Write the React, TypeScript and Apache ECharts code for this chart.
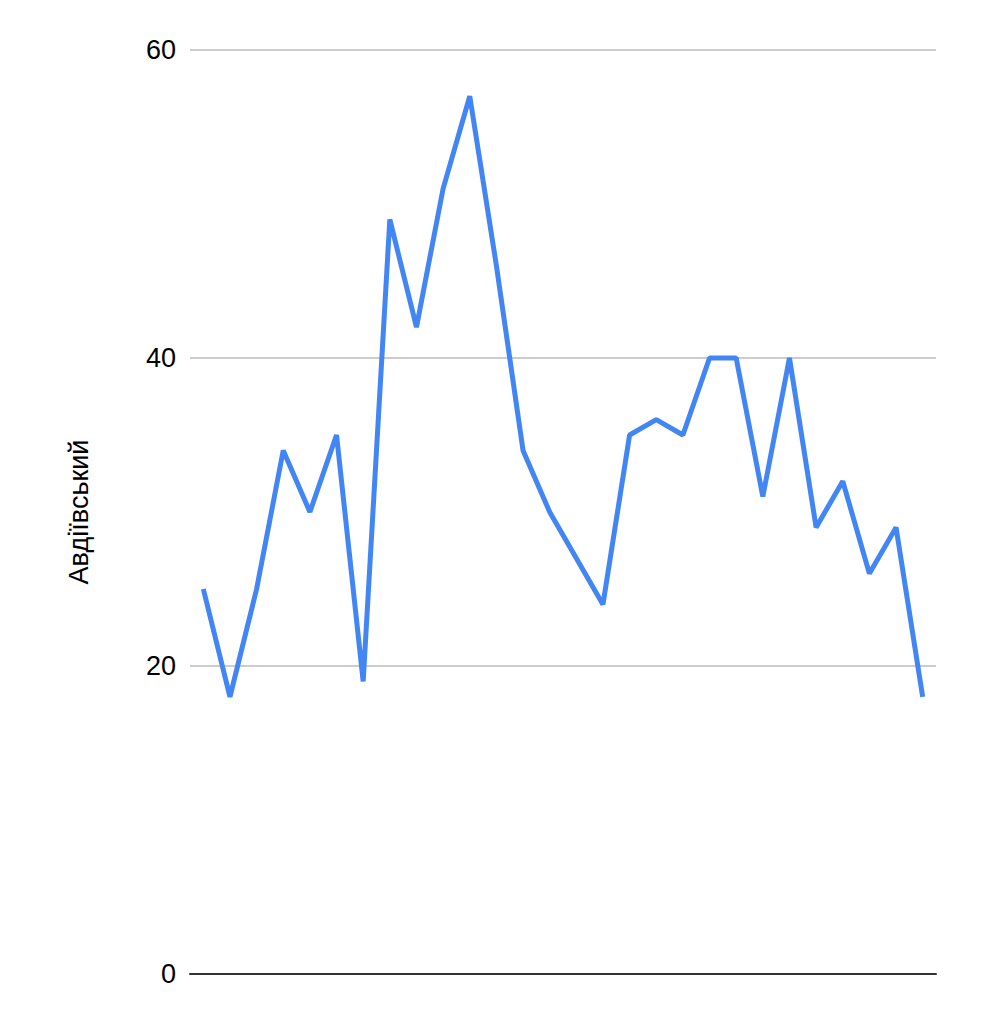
import React, { useEffect, useRef } from "react";
import * as echarts from "echarts";

const categories: string[] = [
  "1", "2", "3", "4", "5", "6", "7", "8", "9", "10", "11", "12", "13", "14",
  "15", "16", "17", "18", "19", "20", "21", "22", "23", "24", "25", "26", "27", "28",
];
const values: number[] = [
  25, 18, 25, 34, 30, 35, 19, 49, 42, 51, 57, 46, 34, 30,
  27, 24, 35, 36, 35, 40, 40, 31, 40, 29, 32, 26, 29, 18,
];
const yAxisName = "Авдіївський";
const yMin = 0;
const yMax = 60;
const yInterval = 20;

export default function App() {
  const ref = useRef<HTMLDivElement>(null);
  useEffect(() => {
    if (!ref.current) return;
    const chart = echarts.init(ref.current, undefined, { renderer: "svg" });
    const font = "'Liberation Sans', Arial, Helvetica, sans-serif";
    chart.setOption({
      animation: false,
      backgroundColor: "#ffffff",
      grid: { left: 190, right: 50, top: 50, bottom: 50, containLabel: false },
      xAxis: {
        type: "category",
        data: categories,
        boundaryGap: true,
        axisLabel: { show: false },
        axisTick: { show: false },
        axisLine: { show: true, lineStyle: { color: "#333333", width: 2 } },
        splitLine: { show: false },
      },
      yAxis: {
        type: "value",
        min: yMin,
        max: yMax,
        interval: yInterval,
        name: yAxisName,
        nameLocation: "middle",
        nameGap: 98,
        nameTextStyle: { color: "#000000", fontSize: 27, fontFamily: font },
        axisLabel: { color: "#000000", fontSize: 27, fontFamily: font, margin: 14 },
        axisLine: { show: false },
        axisTick: { show: false },
        splitLine: { show: true, lineStyle: { color: "#cccccc", width: 2 } },
      },
      series: [
        {
          type: "line",
          data: values,
          showSymbol: false,
          symbol: "none",
          lineStyle: { color: "#4285f4", width: 5 },
          itemStyle: { color: "#4285f4" },
        },
      ],
    });
    return () => chart.dispose();
  }, []);
  return (
    <div
      ref={ref}
      style={{ position: "fixed", left: 0, top: 0, width: 986, height: 1024 }}
    />
  );
}
